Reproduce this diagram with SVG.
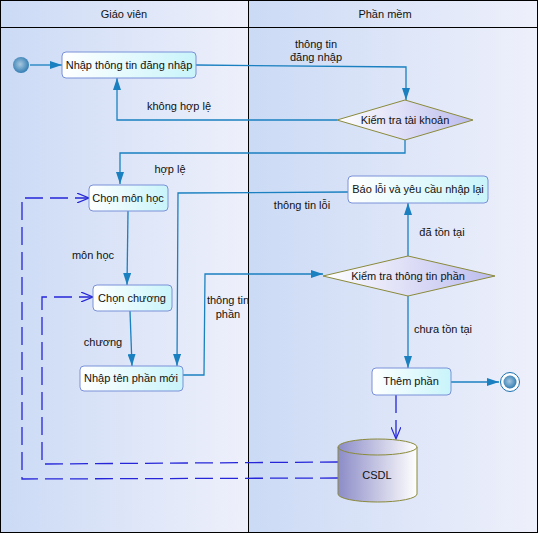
<svg xmlns="http://www.w3.org/2000/svg" width="539" height="534" viewBox="0 0 539 534">
<defs>
<linearGradient id="lane" x1="0" y1="0" x2="1" y2="0">
<stop offset="0" stop-color="#cbdaf5"/><stop offset="1" stop-color="#eef0fb"/>
</linearGradient>
<linearGradient id="node" x1="0" y1="0" x2="1" y2="0">
<stop offset="0" stop-color="#ffffff"/><stop offset="1" stop-color="#c8f4fa"/>
</linearGradient>
<linearGradient id="dia" x1="0" y1="0" x2="1" y2="0">
<stop offset="0" stop-color="#ffffff"/><stop offset="1" stop-color="#bcbcee"/>
</linearGradient>
<linearGradient id="cyl" x1="0" y1="0" x2="1" y2="0">
<stop offset="0" stop-color="#8c8cc8"/><stop offset="1" stop-color="#ffffff"/>
</linearGradient>
<radialGradient id="ball" cx="0.45" cy="0.45" r="0.6">
<stop offset="0" stop-color="#a8c8e0"/><stop offset="1" stop-color="#2a78b0"/>
</radialGradient>
<marker id="ah" markerWidth="13" markerHeight="8" refX="12" refY="4" orient="auto" markerUnits="userSpaceOnUse">
<path d="M0,0 L12,4 L0,8 Z" fill="#1a80c0"/>
</marker>
<marker id="oh" markerWidth="14" markerHeight="10" refX="12" refY="5" orient="auto" markerUnits="userSpaceOnUse">
<path d="M0,0 L12,5 L0,10" fill="none" stroke="#2626d8" stroke-width="1.2"/>
</marker>
</defs>
<style>
text{font-family:"Liberation Sans",Arial,sans-serif;font-size:11px;fill:#111}
.n{fill:url(#node);stroke:#7a90d8;stroke-width:1}
.d{fill:url(#dia);stroke:#8a8a3a;stroke-width:1}
.c{fill:none;stroke:#1a80c0;stroke-width:1.3}
.dash{fill:none;stroke:#2626d8;stroke-width:1.3;stroke-dasharray:18 7}
.m{text-anchor:middle}
</style>
<g id="lanes">
<rect x="0.5" y="0.5" width="248" height="532" fill="url(#lane)"/>
<rect x="248.5" y="0.5" width="289" height="532" fill="url(#lane)"/>
<rect x="0.5" y="0.5" width="537" height="532" fill="none" stroke="#000"/>
<line x1="248.5" y1="0" x2="248.5" y2="533" stroke="#000"/>
<line x1="0" y1="27.5" x2="538" y2="27.5" stroke="#000"/>
<text class="m" x="124" y="18">Giáo viên</text>
<text class="m" x="385" y="18">Phần mềm</text>
</g>
<g id="connectors">
<line class="c" x1="30" y1="65" x2="62" y2="65" marker-end="url(#ah)"/>
<polyline class="c" points="196,65 406,67 406,100" marker-end="url(#ah)"/>
<polyline class="c" points="337,120 117,120 117,78" marker-end="url(#ah)"/>
<polyline class="c" points="405,140 405,153 120,153 120,184" marker-end="url(#ah)"/>
<line class="c" x1="128" y1="211" x2="127" y2="285" marker-end="url(#ah)"/>
<line class="c" x1="130" y1="311" x2="132" y2="366" marker-end="url(#ah)"/>
<polyline class="c" points="348,192 178,193 177,366" marker-end="url(#ah)"/>
<polyline class="c" points="183,375 204,375 205,274 323,274" marker-end="url(#ah)"/>
<line class="c" x1="408" y1="256" x2="408" y2="203" marker-end="url(#ah)"/>
<line class="c" x1="408" y1="296" x2="408" y2="368" marker-end="url(#ah)"/>
<line class="c" x1="451" y1="382" x2="499" y2="382" marker-end="url(#ah)"/>
<line class="dash" x1="396" y1="395" x2="396" y2="439" marker-end="url(#oh)"/>
<polyline class="dash" points="338,462 42,464 42,297 93,297" marker-end="url(#oh)"/>
<polyline class="dash" points="338,478 22,479 22,198 89,198" marker-end="url(#oh)"/>
<text class="m" x="316" y="48">thông tin</text>
<text class="m" x="316" y="61">đăng nhập</text>
<text class="m" x="179" y="110">không hợp lệ</text>
<text class="m" x="170" y="173">hợp lệ</text>
<text class="m" x="302" y="209">thông tin lỗi</text>
<text class="m" x="93" y="259">môn học</text>
<text class="m" x="103" y="346">chương</text>
<text class="m" x="228" y="304">thông tin</text>
<text class="m" x="228" y="318">phần</text>
<text class="m" x="442" y="236">đã tồn tại</text>
<text class="m" x="443" y="333">chưa tồn tại</text>
</g>
<g id="start"><circle cx="21" cy="65" r="8" fill="url(#ball)"/></g>
<g id="n1"><rect class="n" x="62" y="52" width="134" height="26" rx="4"/><text class="m" x="129" y="69">Nhập thông tin đăng nhập</text></g>
<g id="d1"><polygon class="d" points="337,120 405,100 473,120 405,140"/><text class="m" x="405" y="124">Kiểm tra tài khoản</text></g>
<g id="n2"><rect class="n" x="89" y="185" width="79" height="26" rx="4"/><text class="m" x="128" y="202">Chọn môn học</text></g>
<g id="n3"><rect class="n" x="348" y="176" width="140" height="27" rx="4"/><text class="m" x="418" y="193">Báo lỗi và yêu cầu nhập lại</text></g>
<g id="n4"><rect class="n" x="93" y="285" width="79" height="26" rx="4"/><text class="m" x="132" y="302">Chọn chương</text></g>
<g id="d2"><polygon class="d" points="323,276 408,256 495,276 408,296"/><text class="m" x="408" y="280">Kiểm tra thông tin phần</text></g>
<g id="n5"><rect class="n" x="80" y="366" width="103" height="25" rx="4"/><text class="m" x="131" y="382">Nhập tên phần mới</text></g>
<g id="n6"><rect class="n" x="372" y="368" width="79" height="27" rx="4"/><text class="m" x="411" y="385">Thêm phần</text></g>
<g id="end"><circle cx="510" cy="382" r="9.5" fill="#fff" stroke="#1a70b0"/><circle cx="510" cy="382" r="6.5" fill="url(#ball)"/></g>
<g id="csdl">
<path d="M338,447 L338,494 A39.5,8 0 0 0 417,494 L417,447" fill="url(#cyl)" stroke="#8a8a3a"/>
<ellipse cx="377.5" cy="447" rx="39.5" ry="8" fill="url(#cyl)" stroke="#8a8a3a"/>
<text class="m" x="377" y="479">CSDL</text>
</g>
</svg>
